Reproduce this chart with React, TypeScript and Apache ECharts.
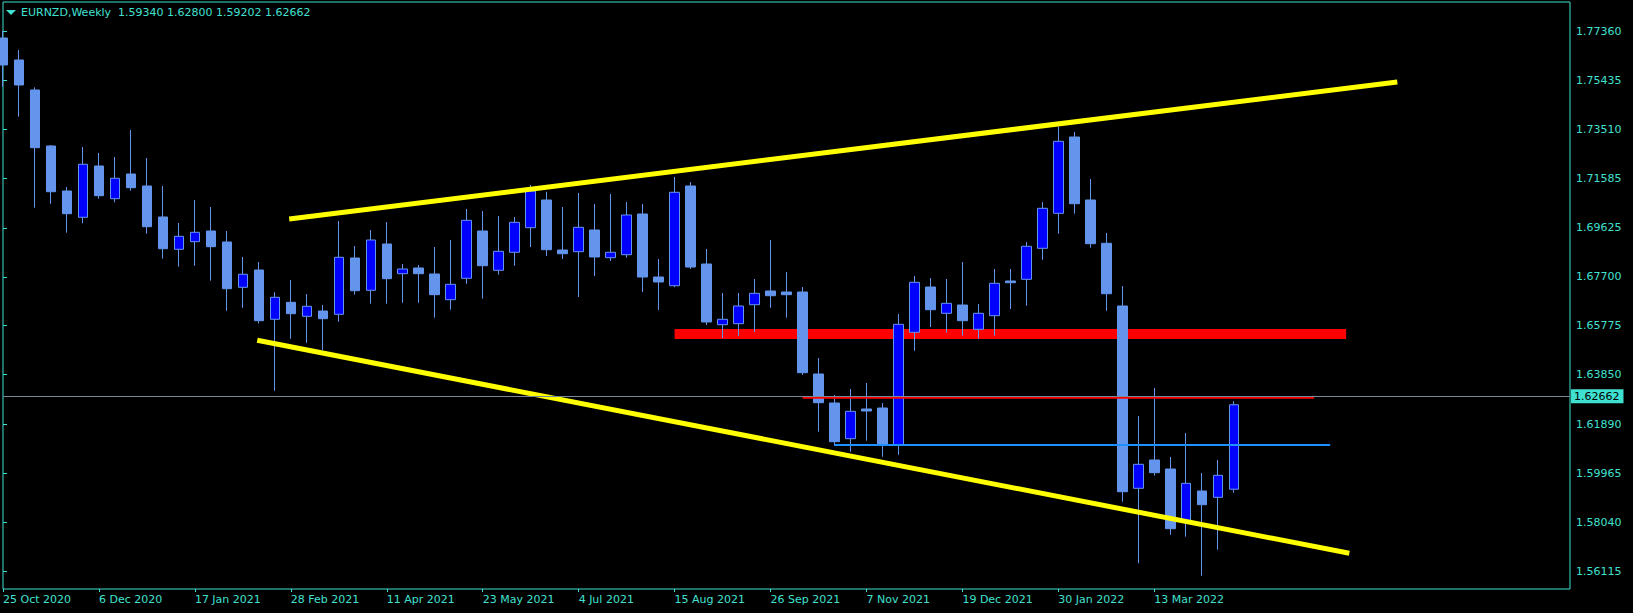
import React, { useEffect, useRef } from 'react';
import * as echarts from 'echarts';

// ---- axis / categories ----
const START_UTC = Date.UTC(2020, 9, 25); // 25 Oct 2020 (first weekly bar)
const AXIS_WEEKS = 99; // visible slots on the time axis
const MONTHS = ['Jan', 'Feb', 'Mar', 'Apr', 'May', 'Jun', 'Jul', 'Aug', 'Sep', 'Oct', 'Nov', 'Dec'];
const weekLabels: string[] = Array.from({ length: AXIS_WEEKS }, (_, i) => {
  const d = new Date(START_UTC + i * 7 * 86400000);
  return `${d.getUTCDate()} ${MONTHS[d.getUTCMonth()]} ${d.getUTCFullYear()}`;
});

// ---- weekly OHLC (EURNZD) ----
const open = [
  1.77096, 1.76231, 1.75050, 1.72846, 1.71075, 1.70040, 1.72059, 1.70772, 1.71744, 1.71272,
  1.70052, 1.68781, 1.69080, 1.69501, 1.69068, 1.67285, 1.67966, 1.66026, 1.66695, 1.66144,
  1.66352, 1.66222, 1.68438, 1.67167, 1.68989, 1.67820, 1.68045, 1.67809, 1.66797, 1.67639,
  1.69501, 1.67954, 1.68663, 1.69631, 1.70721, 1.68753, 1.68686, 1.69540, 1.68450, 1.68568,
  1.70170, 1.67690, 1.67348, 1.71272, 1.68202, 1.65813, 1.65853, 1.66600, 1.67140, 1.67100,
  1.67100, 1.63873, 1.62732, 1.61327, 1.62496, 1.62535, 1.61079, 1.65514, 1.67297, 1.66262,
  1.66588, 1.65632, 1.66167, 1.67533, 1.67600, 1.68820, 1.70197, 1.73200, 1.70721, 1.69017,
  1.66549, 1.59375, 1.60489, 1.60134, 1.58060, 1.59269, 1.59020, 1.59340,
];
const high = [
  1.77372, 1.76624, 1.75156, 1.72885, 1.71232, 1.72807, 1.72571, 1.72413, 1.73476, 1.72374,
  1.71272, 1.69816, 1.70721, 1.70445, 1.69501, 1.68478, 1.68281, 1.67088, 1.67572, 1.67021,
  1.66588, 1.69894, 1.68911, 1.69540, 1.69855, 1.68202, 1.68163, 1.68871, 1.69147, 1.70367,
  1.70288, 1.70091, 1.70052, 1.71311, 1.71047, 1.70445, 1.70996, 1.70563, 1.70957, 1.70642,
  1.70563, 1.68399, 1.71626, 1.71429, 1.68792, 1.67061, 1.67061, 1.67612, 1.69147, 1.67887,
  1.67297, 1.64503, 1.63047, 1.63283, 1.63519, 1.62732, 1.66234, 1.67730, 1.67651, 1.67612,
  1.68281, 1.66628, 1.68005, 1.68005, 1.69068, 1.70642, 1.73606, 1.73397, 1.71547, 1.69422,
  1.67336, 1.62220, 1.63322, 1.60607, 1.61551, 1.59977, 1.60489, 1.62800,
];
const low = [
  1.75180, 1.73999, 1.70418, 1.70575, 1.69434, 1.69804, 1.70772, 1.70630, 1.71087, 1.69395,
  1.68411, 1.68096, 1.68135, 1.67545, 1.66364, 1.66482, 1.65861, 1.63216, 1.65262, 1.65105,
  1.64818, 1.65931, 1.66994, 1.66640, 1.66640, 1.66679, 1.66679, 1.66089, 1.66404, 1.67427,
  1.66837, 1.67781, 1.68135, 1.68871, 1.68517, 1.68399, 1.66903, 1.67730, 1.68320, 1.68450,
  1.67100, 1.66392, 1.67290, 1.68005, 1.65801, 1.65290, 1.65368, 1.65526, 1.66482, 1.66089,
  1.63834, 1.61602, 1.61051, 1.60815, 1.61248, 1.60618, 1.60697, 1.64790, 1.65723, 1.65498,
  1.65380, 1.65262, 1.65380, 1.66431, 1.66561, 1.68371, 1.69395, 1.70182, 1.68844, 1.66364,
  1.58847, 1.56423, 1.59871, 1.57549, 1.57470, 1.55935, 1.56958, 1.59202,
];
const close = [
  1.76034, 1.75247, 1.72779, 1.71047, 1.70182, 1.72126, 1.70890, 1.71575, 1.71205, 1.69670,
  1.68804, 1.69292, 1.69450, 1.68883, 1.67230, 1.67797, 1.65971, 1.66892, 1.66246, 1.66537,
  1.66049, 1.68466, 1.67151, 1.69147, 1.67624, 1.68005, 1.67820, 1.66994, 1.67403, 1.69922,
  1.68135, 1.68702, 1.69843, 1.71075, 1.68765, 1.68607, 1.69646, 1.68478, 1.68663, 1.70131,
  1.67690, 1.67494, 1.71024, 1.68084, 1.65920, 1.66026, 1.66549, 1.67049, 1.66954, 1.66994,
  1.63924, 1.62744, 1.61209, 1.62405, 1.62417, 1.61079, 1.65829, 1.67482, 1.66404, 1.66655,
  1.65971, 1.66262, 1.67443, 1.67466, 1.68899, 1.70394, 1.73031, 1.70575, 1.69001, 1.67033,
  1.59241, 1.60319, 1.59989, 1.57785, 1.59571, 1.58729, 1.59886, 1.62662,
];

// ---- price scale labels ----
const yTickValues = [1.7736, 1.75435, 1.7351, 1.71585, 1.69625, 1.677, 1.65775, 1.6385, 1.6189, 1.59965, 1.5804, 1.56115];
const Y_MIN = 1.55412;
const Y_MAX = 1.78513;
const lastPrice = 1.62662;
const headerText = 'EURNZD,Weekly  1.59340 1.62800 1.59202 1.62662';

// ---- drawn objects: [barIndex, price] ----
const upperTrend = [[17.9, 1.69973], [87.2, 1.75365]];
const lowerTrend = [[15.9, 1.65199], [84.2, 1.56817]];
const redZone = [[42, 1.65447], [84, 1.65447]];
const redLevel = [[50, 1.62941], [82, 1.62941]];
const blueLevel = [[52, 1.61079], [83, 1.61079]];

const FG = '#40E0D0';
const FONT = '"DejaVu Sans", Tahoma, sans-serif';

export default function App() {
  const ref = useRef<HTMLDivElement>(null);
  useEffect(() => {
    if (!ref.current) return;
    const chart = echarts.init(ref.current, null, { renderer: 'svg' });
    const candles = open.map((o, i) => [o, close[i], low[i], high[i]]);
    const lastBar = open.length - 1;
    const showTick = (i: number) => i % 6 === 0 && i <= lastBar;
    const overlay = (data: number[][], color: string, width: number, z: number) => ({
      type: 'line',
      xAxisIndex: 1,
      yAxisIndex: 0,
      data,
      symbol: 'none',
      silent: true,
      z,
      lineStyle: { color, width, cap: 'butt' },
    });
    chart.setOption({
      animation: false,
      backgroundColor: '#000000',
      title: {
        text: headerText,
        left: 21,
        top: 7,
        padding: 0,
        textStyle: { color: FG, fontSize: 11, fontWeight: 'normal', fontFamily: FONT },
      },
      graphic: [
        { type: 'polygon', shape: { points: [[6, 10], [16, 10], [11, 15]] }, style: { fill: FG } },
      ],
      grid: { left: 3, right: 63, top: 2, bottom: 24, show: true, borderColor: FG, borderWidth: 1 },
      xAxis: [
        {
          type: 'category',
          data: weekLabels,
          boundaryGap: false,
          axisLine: { show: false },
          axisTick: { show: true, interval: showTick, length: 3, lineStyle: { color: FG } },
          axisLabel: {
            interval: showTick,
            align: 'left',
            color: FG,
            fontSize: 11,
            fontFamily: FONT,
            margin: 5,
          },
          splitLine: { show: false },
        },
        { type: 'value', min: 0, max: AXIS_WEEKS - 1, show: false },
      ],
      yAxis: {
        type: 'value',
        position: 'right',
        min: Y_MIN,
        max: Y_MAX,
        axisLine: { show: false },
        splitLine: { show: false },
        axisTick: { show: true, customValues: yTickValues, length: 4, lineStyle: { color: FG } },
        axisLabel: {
          customValues: yTickValues,
          formatter: (v: number) => v.toFixed(5),
          color: FG,
          fontSize: 11,
          fontFamily: FONT,
          margin: 6,
        },
      },
      series: [
        overlay(redZone, '#FF0000', 10, 2),
        {
          type: 'candlestick',
          xAxisIndex: 0,
          yAxisIndex: 0,
          data: candles,
          barWidth: 10,
          silent: true,
          z: 2,
          itemStyle: {
            color: '#0000FF',
            color0: '#6495ED',
            borderColor: '#6495ED',
            borderColor0: '#6495ED',
            borderWidth: 1,
          },
          markLine: {
            silent: true,
            symbol: ['none', 'none'],
            lineStyle: { color: '#778899', width: 1, type: 'solid' },
            label: {
              show: true,
              position: 'end',
              distance: 1,
              formatter: () => lastPrice.toFixed(5),
              color: '#000000',
              backgroundColor: FG,
              padding: [2, 4, 1, 3],
              fontSize: 11,
              fontFamily: FONT,
            },
            data: [{ yAxis: lastPrice }],
          },
        },
        overlay(redLevel, '#FF0000', 2, 3),
        overlay(blueLevel, '#1E90FF', 2, 3),
        overlay(upperTrend, '#FFFF00', 5, 3),
        overlay(lowerTrend, '#FFFF00', 5, 3),
      ],
    });
    return () => chart.dispose();
  }, []);
  return (
    <div
      ref={ref}
      style={{ position: 'fixed', left: 0, top: 0, width: 1633, height: 613, background: '#000' }}
    />
  );
}
